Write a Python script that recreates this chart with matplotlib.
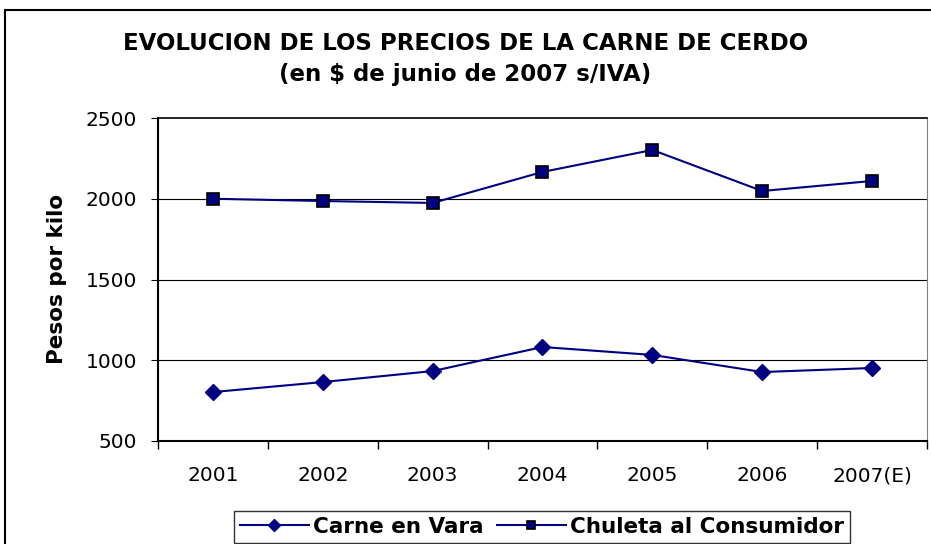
import matplotlib.pyplot as plt
from matplotlib.patches import Rectangle

years = ["2001", "2002", "2003", "2004", "2005", "2006", "2007(E)"]
carne_vara = [803, 865, 933, 1082, 1033, 927, 952]
chuleta = [2000, 1986, 1974, 2166, 2302, 2048, 2110]

navy = "#000080"

fig = plt.figure(figsize=(9.31, 5.44), dpi=100)
ax = fig.add_axes([158 / 931, 1 - 441 / 544, (927 - 158) / 931, (441 - 118) / 544])

x = list(range(len(years)))
ax.plot(x, carne_vara, color=navy, lw=1.5, marker="D", ms=8,
        mfc=navy, mec=navy, label="Carne en Vara")
ax.plot(x, chuleta, color=navy, lw=1.5, marker="s", ms=8,
        mfc=navy, mec="black", mew=1.2, label="Chuleta al Consumidor")

ax.set_xlim(-0.5, len(years) - 0.5)
ax.set_ylim(500, 2500)
ax.set_yticks([500, 1000, 1500, 2000, 2500])
ax.set_xticks([i - 0.5 for i in range(len(years) + 1)])
ax.set_xticklabels([])
ax.set_xticks(x, minor=True)
ax.set_xticklabels(years, minor=True)
ax.tick_params(axis="x", which="minor", length=0, pad=18, labelsize=14.5)
ax.tick_params(axis="x", which="major", length=6, direction="out", width=1)
ax.tick_params(axis="y", length=5, direction="out", labelsize=14.5, pad=10)

for v in [1000, 1500, 2000]:
    ax.axhline(v, color="black", lw=0.8, zorder=0)

ax.spines["left"].set_linewidth(1.5)
ax.spines["bottom"].set_linewidth(1.5)
ax.spines["top"].set_linewidth(1.2)
ax.spines["right"].set_color("#808080")

fig.text(57 / 931, 1 - 279 / 544, "Pesos por kilo", rotation=90,
         ha="center", va="center", fontsize=15.5, fontweight="bold")

fig.text(0.5, 1 - 43 / 544, "EVOLUCION DE LOS PRECIOS DE LA CARNE DE CERDO",
         ha="center", va="center", fontsize=16.5, fontweight="bold")
fig.text(0.5, 1 - 74 / 544, "(en $ de junio de 2007 s/IVA)",
         ha="center", va="center", fontsize=16.5, fontweight="bold")

leg = fig.legend(loc="center", bbox_to_anchor=(542 / 931, 1 - 527 / 544),
                 ncol=2, prop={"weight": "bold", "size": 15.5},
                 frameon=True, fancybox=False, edgecolor="black",
                 handlelength=3.2, columnspacing=0.6, handletextpad=0.2,
                 borderpad=0.3, markerscale=0.8)
leg.get_frame().set_linewidth(1.0)

fig.patches.append(Rectangle((5 / 931, -0.05), 1.0, 1 - 10 / 544 + 0.05,
                             transform=fig.transFigure, fill=False,
                             edgecolor="black", lw=1.5))

fig.savefig("out.png", dpi=100)
